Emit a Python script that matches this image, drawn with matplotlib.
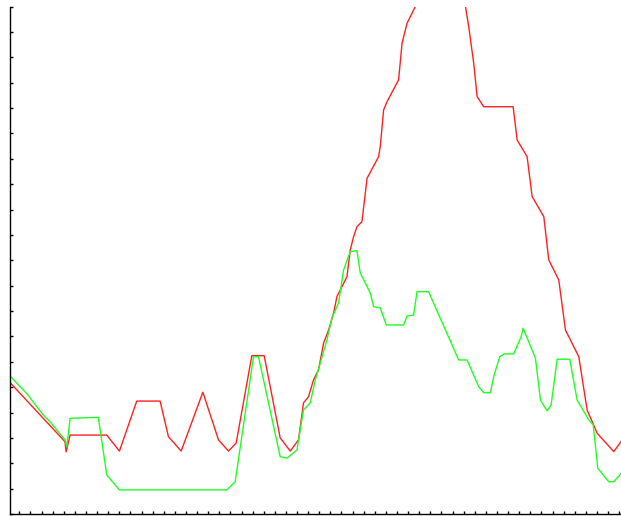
import numpy as np
import matplotlib
matplotlib.use("Agg")
import matplotlib.pyplot as plt

# values (x in tick units, y in tick units)
red_x = [0, 4.95, 5.05, 5.41, 8.71, 9.85, 11.41, 13.51, 14.26, 15.41, 17.36, 18.77,
         19.67, 20.36, 21.77, 22.88, 24.32, 25.23, 25.97, 26.42, 26.87, 27.32, 27.77,
         28.23, 28.68, 29.13, 29.43, 29.88, 30.33, 30.63, 30.93, 31.23, 31.68, 32.14,
         33.18, 33.33, 33.63, 33.94, 34.98, 35.29, 35.74, 36.49, 38.7, 41.0, 41.29,
         41.74, 42.05, 42.64, 45.29, 45.65, 46.55, 47.0, 48.05, 48.5, 49.4, 50.0,
         51.2, 51.95, 52.86, 54.35, 55.0]
red_y = [5.18, 2.85, 2.45, 3.11, 3.11, 2.48, 4.45, 4.45, 3.05, 2.48, 4.80, 2.92,
         2.48, 2.80, 6.24, 6.24, 3.00, 2.48, 2.92, 4.38, 4.62, 5.28, 5.68,
         6.74, 7.25, 7.92, 8.57, 8.96, 9.35, 10.41, 10.93, 11.32, 11.52, 13.23,
         14.08, 14.48, 15.92, 16.25, 17.11, 18.55, 19.34, 20.0, 22.5, 20.0, 19.21,
         17.77, 16.45, 16.05, 16.05, 14.74, 14.08, 12.51, 11.72, 10.01, 9.22, 7.25,
         6.20, 4.10, 3.18, 2.46, 2.85]

green_x = [0, 1.5, 3.0, 3.6, 4.95, 5.11, 5.41, 7.95, 8.71, 9.85, 19.52, 20.27, 21.92,
           22.37, 24.32, 24.93, 25.83, 26.42, 27.03, 27.48, 27.93, 28.53, 28.98,
           29.58, 30.03, 30.63, 31.23, 31.53, 32.43, 32.73, 33.33, 33.87, 35.43,
           35.74, 36.33, 36.64, 37.68, 40.39, 41.14, 42.19, 42.64, 43.24, 43.54,
           44.08, 44.5, 45.34, 46.01, 46.19, 47.3, 47.75, 48.35, 48.71, 49.25,
           50.39, 51.05, 52.1, 52.5, 52.91, 53.9, 54.35, 55.0]
green_y = [5.44, 4.75, 3.90, 3.64, 2.92, 2.65, 3.77, 3.81, 1.54, 0.95, 0.95, 1.27, 6.20,
           6.20, 2.26, 2.20, 2.52, 4.10, 4.38, 5.28, 5.95, 6.86, 7.73,
           8.32, 9.62, 10.34, 10.38, 9.50, 8.71, 8.17, 8.12, 7.45, 7.45,
           7.80, 7.84, 8.76, 8.76, 6.07, 6.07, 5.02, 4.78, 4.78, 5.41,
           6.20, 6.31, 6.31, 6.99, 7.32, 6.14, 4.49, 4.06, 4.30, 6.10,
           6.10, 4.49, 3.71, 3.51, 1.80, 1.27, 1.27, 1.60]

fig = plt.figure(figsize=(6.21, 5.16), dpi=100)
ax = fig.add_axes([10 / 621, 2 / 516, 611 / 621, 507.5 / 516])

ax.plot(red_x, red_y, color="#ff2020", lw=1.0)
ax.plot(green_x, green_y, color="#20ff20", lw=1.0)

ax.set_xlim(0, 55)
ax.set_ylim(0, 20)
ax.set_xticks(np.arange(1, 56, 1) - 0.16)
ax.set_yticks(np.arange(0, 21, 1))
ax.tick_params(direction="in", length=2, width=1, labelleft=False, labelbottom=False)
ax.spines["top"].set_visible(False)
ax.spines["right"].set_visible(False)
for s in ["left", "bottom"]:
    ax.spines[s].set_linewidth(1.0)

fig.savefig("out.png", dpi=100)
